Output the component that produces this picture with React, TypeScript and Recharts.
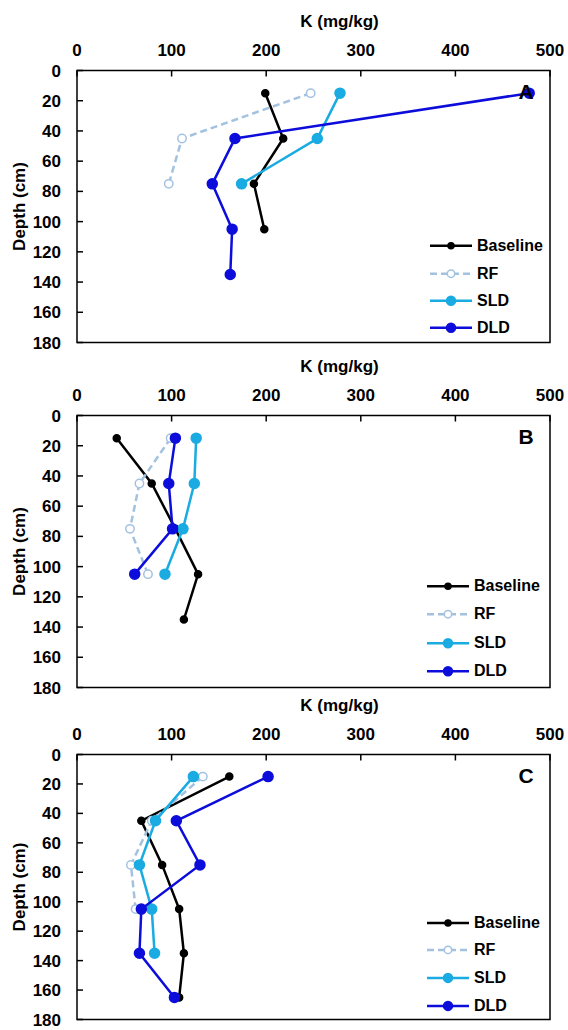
import { ScatterChart, Scatter, XAxis, YAxis, Legend, ReferenceArea } from "recharts";

const DEPTHS = [15, 45, 75, 105, 135, 165];
const K_TICKS = [0, 100, 200, 300, 400, 500];
const DEPTH_TICKS = [0, 20, 40, 60, 80, 100, 120, 140, 160, 180];
const SERIES_ORDER = ["Baseline", "RF", "SLD", "DLD"];

// panel A
const A_BASELINE = [199, 218, 187, 198];
const A_RF = [247, 111, 97];
const A_SLD = [278, 254, 174];
const A_DLD = [478, 167, 143, 164, 162];

// panel B
const B_BASELINE = [42, 79, 104, 128, 113];
const B_RF = [99, 66, 56, 75];
const B_SLD = [126, 124, 112, 93];
const B_DLD = [104, 97, 101, 61];

// panel C
const C_BASELINE = [161, 68, 90, 108, 113, 108];
const C_RF = [133, 79, 57, 62];
const C_SLD = [123, 83, 66, 79, 82];
const C_DLD = [202, 105, 130, 68, 66, 103];

const FONT = '"Liberation Sans", Arial, sans-serif';

const STYLES: Record<string, { color: string; r: number; hollow?: boolean; dash?: string }> = {
  Baseline: { color: "#000000", r: 3.5 },
  RF: { color: "#A3C2E0", r: 4.2, hollow: true, dash: "7 4" },
  SLD: { color: "#19ABE1", r: 5 },
  DLD: { color: "#0D0DDB", r: 5 },
};

const toPoints = (values: number[]) =>
  values.map((k, i) => ({ k, depth: DEPTHS[i] }));

// ticks point inward, labels outside the box
const TopTick = (p: any) => (
  <g>
    <line x1={p.x} x2={p.x} y1={p.y} y2={p.y + 6} stroke="#000" strokeWidth={1.5} />
    <text x={p.x} y={p.y - 14.4} textAnchor="middle" fontFamily={FONT} fontWeight={700} fontSize={17} fill="#000">
      {p.payload.value}
    </text>
  </g>
);

const LeftTick = (p: any) => (
  <g>
    <line x1={p.x} x2={p.x + 6} y1={p.y} y2={p.y} stroke="#000" strokeWidth={1.5} />
    <text x={p.x - 16} y={p.y} dy="0.355em" textAnchor="end" fontFamily={FONT} fontWeight={700} fontSize={17} fill="#000">
      {p.payload.value}
    </text>
  </g>
);

function makeLegend(rowH: number) {
  return (props: any) => {
    const items = [...(props.payload || [])].sort(
      (a: any, b: any) => SERIES_ORDER.indexOf(a.value) - SERIES_ORDER.indexOf(b.value)
    );
    return (
      <div style={{ fontFamily: FONT, fontWeight: 700, fontSize: 16, color: "#000" }}>
        {items.map((entry: any) => {
          const st = STYLES[entry.value];
          const mid = rowH / 2;
          return (
            <div key={entry.value} style={{ display: "flex", alignItems: "center", height: rowH }}>
              <svg width={46} height={rowH}>
                <line x1={2} x2={44} y1={mid} y2={mid} stroke={st.color} strokeWidth={2.5} strokeDasharray={st.dash} />
                <circle cx={23} cy={mid} r={st.r - 0.5} fill={st.hollow ? "#fff" : st.color} stroke={st.color} strokeWidth={1.5} />
              </svg>
              <span style={{ marginLeft: 3, lineHeight: rowH + "px" }}>{entry.value}</span>
            </div>
          );
        })}
      </div>
    );
  };
}

function Panel({ letter, top, bottom, series, legendLeft, legendTop, rowH }: any) {
  return (
    <div style={{ position: "absolute", left: 0, top, width: 568, height: 352 }}>
      <ScatterChart width={568} height={352} margin={{ top: 0, right: 18, bottom, left: 0 }}>
        <XAxis
          type="number"
          dataKey="k"
          orientation="top"
          domain={[0, 500]}
          ticks={K_TICKS}
          interval={0}
          height={70.5}
          tickSize={0}
          tickMargin={0}
          axisLine={false}
          tickLine={false}
          tick={<TopTick />}
          label={(p: any) => {
            const vb = p.viewBox;
            return (
              <text x={vb.x + vb.width / 2 + 26} y={vb.y + 27} textAnchor="middle"
                fontFamily={FONT} fontWeight={700} fontSize={17} fill="#000">
                K (mg/kg)
              </text>
            );
          }}
        />
        <YAxis
          type="number"
          dataKey="depth"
          domain={[0, 180]}
          reversed
          ticks={DEPTH_TICKS}
          interval={0}
          width={77}
          tickSize={0}
          tickMargin={0}
          axisLine={false}
          tickLine={false}
          tick={<LeftTick />}
          label={(p: any) => {
            const vb = p.viewBox;
            return (
              <text transform={`translate(24.5, ${vb.y + vb.height / 2}) rotate(-90)`} x={0} y={0}
                textAnchor="middle" fontFamily={FONT} fontWeight={700} fontSize={17} fill="#000">
                Depth (cm)
              </text>
            );
          }}
        />
        <ReferenceArea x1={0} x2={500} y1={0} y2={180} fill="none" fillOpacity={0} stroke="#000" strokeWidth={1.5} />
        {series.map((s: any) => {
          const st = STYLES[s.name];
          return (
            <Scatter
              key={s.name}
              name={s.name}
              data={toPoints(s.values)}
              fill={st.color}
              isAnimationActive={false}
              line={{ stroke: st.color, strokeWidth: 2.5, strokeDasharray: st.dash }}
              shape={(p: any) => (
                <circle cx={p.cx} cy={p.cy} r={st.r} fill={st.hollow ? "#fff" : st.color}
                  stroke={st.color} strokeWidth={1.5} />
              )}
            />
          );
        })}
        <Legend
          layout="vertical"
          align="center"
          verticalAlign="middle"
          wrapperStyle={{ left: legendLeft, top: legendTop, width: 140 }}
          content={makeLegend(rowH)}
        />
      </ScatterChart>
      <div style={{ position: "absolute", left: 511, top: 81.4, width: 30, textAlign: "center",
        fontFamily: FONT, fontWeight: 700, fontSize: 21, lineHeight: "21px", color: "#000" }}>
        {letter}
      </div>
    </div>
  );
}

export default function App() {
  const panels = [
    {
      letter: "A", top: 0, bottom: 9.5, legendLeft: 428, legendTop: 232.3, rowH: 27.4,
      series: [
        { name: "Baseline", values: A_BASELINE },
        { name: "RF", values: A_RF },
        { name: "SLD", values: A_SLD },
        { name: "DLD", values: A_DLD },
      ],
    },
    {
      letter: "B", top: 345, bottom: 9.5, legendLeft: 425, legendTop: 227, rowH: 28.4,
      series: [
        { name: "Baseline", values: B_BASELINE },
        { name: "RF", values: B_RF },
        { name: "SLD", values: B_SLD },
        { name: "DLD", values: B_DLD },
      ],
    },
    {
      letter: "C", top: 684, bottom: 16.5, legendLeft: 425, legendTop: 224.5, rowH: 27.8,
      series: [
        { name: "Baseline", values: C_BASELINE },
        { name: "RF", values: C_RF },
        { name: "SLD", values: C_SLD },
        { name: "DLD", values: C_DLD },
      ],
    },
  ];
  return (
    <div style={{ position: "absolute", left: 0, top: 0, width: 568, height: 1030, background: "#fff", overflow: "hidden" }}>
      {panels.map((p) => (
        <Panel key={p.letter} {...p} />
      ))}
    </div>
  );
}
